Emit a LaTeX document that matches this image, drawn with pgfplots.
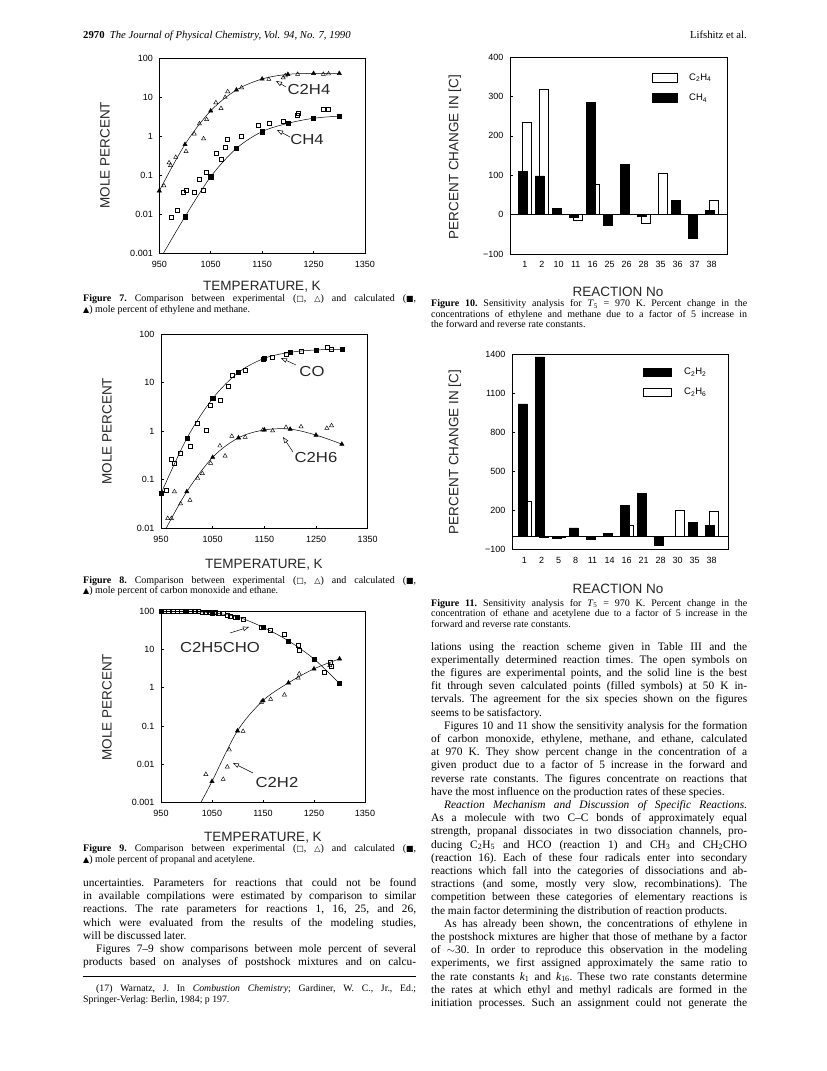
\documentclass[border=0pt]{standalone}
\usepackage{fontspec}
\setmainfont{Liberation Serif}
\newfontfamily\plotfont{Liberation Sans}
\newfontfamily\symfont{DejaVu Sans}
\usepackage{pgfplots}
\pgfplotsset{compat=1.18}
\usetikzlibrary{arrows.meta}

\newcommand{\capfont}{\fontsize{10}{10.5}\selectfont\frenchspacing}
\newcommand{\bodyfont}{\fontsize{11.4}{13.2}\selectfont\frenchspacing}
\newcommand{\labfont}{\plotfont\fontsize{13.5}{13.5}\selectfont\color{black!85}}
\newcommand{\annfont}{\plotfont\fontsize{14.5}{14.5}\selectfont\color{black!85}}
\newcommand{\tickfont}{\plotfont\fontsize{9}{9}\selectfont}
\newcommand{\sq}{{\symfont\fontsize{8}{8}\selectfont □}}
\newcommand{\tri}{{\symfont\fontsize{8}{8}\selectfont △}}
\newcommand{\fsq}{{\symfont\fontsize{8}{8}\selectfont ■}}
\newcommand{\ftri}{{\symfont\fontsize{8}{8}\selectfont ▲}}

\pgfplotsset{
  panelbase/.style={
    scale only axis, anchor=south west,
    axis line style={line width=0.6pt},
    tick align=inside, major tick length=2.5pt,
    xtick pos=left, ytick pos=left,
    tick style={line width=0.5pt, black},
    ticklabel style={font=\tickfont},
    xticklabel style={yshift=-4pt},
    yticklabel style={xshift=-3pt},
  },
  logpanel/.style={
    panelbase, xmin=950, xmax=1350,
    xtick={950,1050,1150,1250,1350},
    xticklabels={950,1050,1150,1250,1350},
    yminorticks=false,
  },
  barpanel/.style={
    panelbase, xtick={0,1,2,3,4,5,6,7,8,9,10,11}, xtick style={draw=none},
  },
}
\tikzset{
  calcline/.style={black, line width=0.5pt, smooth, tension=0.55, mark=none},
  fsqm/.style={only marks, mark=square*, mark size=2.1pt, black},
  osqm/.style={only marks, mark=square, mark size=2pt, black, line width=0.45pt},
  ftrm/.style={only marks, mark=triangle*, mark size=2.5pt, black},
  otrm/.style={only marks, mark=triangle, mark size=2.4pt, black, line width=0.45pt},
  ann/.style={line width=0.5pt, -{Triangle[open, length=6pt, width=4.5pt]}},
  annt/.style={font=\annfont, xscale=1.15},
}

\begin{document}
\begin{tikzpicture}
\useasboundingbox[fill=white] (0,0) rectangle (827pt,-1071pt);

% ---------- header ----------
\node[anchor=base west, inner sep=0pt, font=\fontsize{10.7}{12}\selectfont] at (83pt,-38.5pt)
  {\textbf{2970}\enspace\textit{The Journal of Physical Chemistry, Vol. 94, No. 7, 1990}};
\node[anchor=base east, inner sep=0pt, font=\fontsize{10.7}{12}\selectfont] at (747pt,-38.5pt)
  {Lifshitz et al.};

% ---------- Figure 7 ----------
\begin{axis}[ymode=log, logpanel, at={(159.3pt,-253.3pt)}, width=205.7pt, height=195pt,
  ymin=0.001, ymax=100,
  ytick={0.001,0.01,0.1,1,10,100}, yticklabels={0.001,0.01,0.1,1,10,100}]
  \addplot[calcline] coordinates {(950,0.040) (1000,0.62) (1050,4.5) (1100,15.4) (1150,29.5) (1200,38.8) (1250,41) (1300,41)};
  \addplot[ftrm] coordinates {(950,0.040) (1000,0.62) (1050,4.5) (1100,15.4) (1150,29.5) (1200,38.8) (1250,41) (1300,41)};
  \addplot[calcline] coordinates {(958,0.001) (1000,0.0087) (1050,0.092) (1100,0.49) (1150,1.32) (1200,2.15) (1250,2.9) (1300,3.3)};
  \addplot[fsqm] coordinates {(1000,0.0087) (1050,0.092) (1100,0.49) (1150,1.32) (1200,2.15) (1250,2.9) (1300,3.3)};
  \addplot[otrm] coordinates {(959,0.054) (969,0.21) (972,0.18) (982,0.29) (1002,0.41) (1018,1.15) (1028,2.1) (1036,0.87) (1042,2.7) (1060,7.3) (1070,5.2) (1078,10) (1083,14) (1110,17.7) (1163,29) (1191,31.8) (1195,36) (1219,39) (1269,39) (1279,40)};
  \addplot[osqm] coordinates {(973,0.0083) (985,0.013) (997,0.036) (1003,0.042) (1018,0.036) (1028,0.079) (1036,0.041) (1042,0.12) (1060,0.36) (1070,0.26) (1078,0.51) (1083,0.83) (1110,1.0) (1143,1.9) (1163,2.15) (1191,2.5) (1219,3.5) (1220,3.9) (1269,4.9) (1279,4.9)};
\end{axis}
\node[rotate=90, font=\labfont] at (105pt,-155pt) {MOLE PERCENT};
\node[font=\labfont] at (262pt,-287pt) {TEMPERATURE, K};
\node[annt] at (309pt,-90pt) {C2H4};
\draw[ann] (286pt,-87pt) -- (276pt,-81pt);
\node[annt] at (307pt,-140pt) {CH4};
\draw[ann] (290pt,-137pt) -- (277pt,-130pt);
\node[anchor=base west, inner sep=0pt] at (83pt,-301.5pt) {\begin{minipage}[t]{333pt}\capfont
\textbf{Figure 7.} Comparison between experimental (\sq, \tri) and calculated (\fsq,\linebreak
\ftri) mole percent of ethylene and methane.\end{minipage}};

% ---------- Figure 8 ----------
\begin{axis}[ymode=log, logpanel, at={(161pt,-528.3pt)}, width=206.7pt, height=194.3pt,
  ymin=0.01, ymax=100,
  ytick={0.01,0.1,1,10,100}, yticklabels={0.01,0.1,1,10,100}]
  \addplot[calcline] coordinates {(950,0.052) (1000,0.71) (1050,4.7) (1100,16.2) (1150,31.6) (1200,42) (1250,47) (1300,48)};
  \addplot[fsqm] coordinates {(950,0.052) (1000,0.71) (1050,4.7) (1100,16.2) (1150,31.6) (1200,42) (1250,47) (1300,48)};
  \addplot[calcline] coordinates {(960,0.01) (1000,0.057) (1050,0.29) (1100,0.73) (1150,1.06) (1200,1.1) (1250,0.83) (1300,0.54)};
  \addplot[ftrm] coordinates {(1000,0.057) (1050,0.29) (1100,0.73) (1150,1.06) (1200,1.1) (1250,0.83) (1300,0.54)};
  \addplot[osqm] coordinates {(960,0.062) (969,0.26) (976,0.22) (988,0.35) (1006,0.48) (1021,1.45) (1038,1.05) (1046,3.4) (1064,4.4) (1080,8.5) (1087,14.3) (1113,17.6) (1147,30) (1166,34) (1192,39) (1221,44.6) (1271,53) (1280,48)};
  \addplot[otrm] coordinates {(963,0.016) (970,0.016) (976,0.057) (988,0.032) (1006,0.038) (1021,0.107) (1030,0.135) (1046,0.22) (1064,0.50) (1074,0.31) (1087,0.79) (1113,0.75) (1147,1.06) (1166,1.02) (1192,1.2) (1221,1.24) (1271,1.15) (1280,1.3)};
\end{axis}
\node[rotate=90, font=\labfont] at (107pt,-431pt) {MOLE PERCENT};
\node[font=\labfont] at (264pt,-565pt) {TEMPERATURE, K};
\node[annt] at (312pt,-372pt) {CO};
\draw[ann] (296pt,-365pt) -- (281pt,-358pt);
\node[annt] at (316pt,-458pt) {C2H6};
\draw[ann] (293pt,-452pt) -- (283pt,-437pt);
\node[anchor=base west, inner sep=0pt] at (83pt,-583pt) {\begin{minipage}[t]{333pt}\capfont
\textbf{Figure 8.} Comparison between experimental (\sq, \tri) and calculated (\fsq,\linebreak
\ftri) mole percent of carbon monoxide and ethane.\end{minipage}};

% ---------- Figure 9 ----------
\begin{axis}[ymode=log, logpanel, at={(161pt,-802.7pt)}, width=204pt, height=191.7pt,
  ymin=0.001, ymax=100,
  ytick={0.001,0.01,0.1,1,10,100}, yticklabels={0.001,0.01,0.1,1,10,100}]
  \addplot[calcline] coordinates {(950,97) (1000,97) (1050,90) (1100,70) (1150,37.7) (1200,16.6) (1250,5.6) (1300,1.29)};
  \addplot[fsqm] coordinates {(950,97) (1000,97) (1050,90) (1100,70) (1150,37.7) (1200,16.6) (1250,5.6) (1300,1.29)};
  \addplot[calcline] coordinates {(1028,0.001) (1050,0.0036) (1100,0.075) (1150,0.46) (1200,1.34) (1250,3.1) (1300,5.65)};
  \addplot[ftrm] coordinates {(1050,0.0036) (1100,0.075) (1150,0.46) (1200,1.34) (1250,3.1) (1300,5.65)};
  \addplot[osqm] coordinates {(956,97) (964,97) (973,97) (982,97) (990,97) (1007,97) (1017,96) (1023,96) (1030,94) (1036,94) (1046,92) (1056,91) (1062,88) (1072,87) (1079,79) (1085,74) (1096,68) (1111,62) (1147,37) (1164,31) (1192,25) (1219,13) (1221,9.5) (1270,2.6) (1281,4.6) (1283,3.6)};
  \addplot[otrm] coordinates {(1038,0.0055) (1072,0.0041) (1080,0.0086) (1084,0.024) (1111,0.073) (1147,0.42) (1165,0.5) (1192,0.65) (1219,1.8) (1221,2.3) (1281,3.8)};
\end{axis}
\node[rotate=90, font=\labfont] at (107pt,-707pt) {MOLE PERCENT};
\node[font=\labfont] at (263pt,-838pt) {TEMPERATURE, K};
\node[annt] at (220pt,-647pt) {C2H5CHO};
\draw[ann] (230pt,-633pt) -- (249pt,-627pt);
\node[annt] at (277pt,-782pt) {C2H2};
\draw[ann] (253pt,-773pt) -- (233pt,-763pt);
\node[anchor=base west, inner sep=0pt] at (83pt,-851.5pt) {\begin{minipage}[t]{333pt}\capfont
\textbf{Figure 9.} Comparison between experimental (\sq, \tri) and calculated (\fsq,\linebreak
\ftri) mole percent of propanal and acetylene.\end{minipage}};

% ---------- left column text ----------
\node[anchor=base west, inner sep=0pt] at (83pt,-886.5pt) {\begin{minipage}[t]{333pt}\bodyfont\setlength{\parindent}{13pt}%
\noindent uncertainties. Parameters for reactions that could not be found\linebreak
in available compilations were estimated by comparison to similar\linebreak
reactions. The rate parameters for reactions 1, 16, 25, and 26,\linebreak
which were evaluated from the results of the modeling studies,\linebreak
will be discussed later.\par
{\parfillskip=0pt Figures 7--9 show comparisons between mole percent of several\linebreak
products based on analyses of postshock mixtures and on calcu-\par}
\end{minipage}};
\draw[line width=0.5pt] (83pt,-976pt) -- (416pt,-976pt);
\node[anchor=base west, inner sep=0pt] at (83pt,-991pt) {\begin{minipage}[t]{333pt}\fontsize{9.8}{11.2}\selectfont\frenchspacing\setlength{\parindent}{13pt}%
(17) Warnatz, J. In \textit{Combustion Chemistry}; Gardiner, W. C., Jr., Ed.;\linebreak
Springer-Verlag: Berlin, 1984; p 197.\end{minipage}};

% ---------- Figure 10 ----------
\begin{axis}[barpanel, at={(510pt,-254pt)}, width=217pt, height=197pt,
  xmin=-0.87, xmax=11.91, ymin=-100, ymax=400,
  xticklabels={1,2,10,11,16,25,26,28,35,36,37,38},
  ytick={-100,0,100,200,300,400}, yticklabels={−100,0,100,200,300,400}]
  % C2H4 (open)
  \addplot[ybar, bar width=8.5pt, bar shift=2pt, draw=black, fill=white, line width=0.5pt]
    coordinates {(0,234) (1,317) (3,-15) (4,76) (7,-21) (8,104) (11,36)};
  % CH4 (filled)
  \addplot[ybar, bar width=9pt, bar shift=-2pt, draw=black, fill=black, line width=0.5pt]
    coordinates {(0,109) (1,98) (2,15) (3,-6) (4,285) (5,-27) (6,128) (7,-4) (9,37) (10,-61) (11,11)};
  \draw[line width=0.6pt] (axis cs:-0.87,0) -- (axis cs:11.91,0);
\end{axis}
\draw[line width=0.5pt, fill=white] (652pt,-73.5pt) rectangle (677pt,-82pt);
\node[anchor=west, inner sep=0pt, font=\plotfont\fontsize{9.5}{9.5}\selectfont] at (689pt,-77.5pt) {C\textsubscript{2}H\textsubscript{4}};
\draw[line width=0.5pt, fill=black] (652pt,-93.5pt) rectangle (677pt,-102pt);
\node[anchor=west, inner sep=0pt, font=\plotfont\fontsize{9.5}{9.5}\selectfont] at (689pt,-98pt) {CH\textsubscript{4}};
\node[rotate=90, font=\labfont] at (455pt,-157pt) {PERCENT CHANGE IN [C]};
\node[font=\labfont] at (618pt,-292pt) {REACTION No};
\node[anchor=base west, inner sep=0pt] at (431pt,-306.5pt) {\begin{minipage}[t]{316pt}\capfont
\textbf{Figure 10.} Sensitivity analysis for \textit{T}\textsubscript{5} = 970 K. Percent change in the\linebreak
concentrations of ethylene and methane due to a factor of 5 increase in\linebreak
the forward and reverse rate constants.\end{minipage}};

% ---------- Figure 11 ----------
\begin{axis}[barpanel, at={(512pt,-549.3pt)}, width=216pt, height=195pt,
  xmin=-0.735, xmax=11.97, ymin=-100, ymax=1400,
  xticklabels={1,2,5,8,11,14,16,21,28,30,35,38},
  ytick={-100,200,500,800,1100,1400}, yticklabels={−100,200,500,800,1100,1400}]
  % C2H6 (open)
  \addplot[ybar, bar width=8.5pt, bar shift=2pt, draw=black, fill=white, line width=0.5pt]
    coordinates {(0,269) (1,-6) (2,-8) (6,85) (9,198) (11,190)};
  % C2H2 (filled)
  \addplot[ybar, bar width=9pt, bar shift=-2pt, draw=black, fill=black, line width=0.5pt]
    coordinates {(0,1019) (1,1380) (2,-12) (3,65) (4,-25) (5,20) (6,236) (7,330) (8,-68) (10,108) (11,86)};
  \draw[line width=0.6pt] (axis cs:-0.735,0) -- (axis cs:11.97,0);
\end{axis}
\draw[line width=0.5pt, fill=black] (643pt,-368pt) rectangle (671pt,-376pt);
\node[anchor=west, inner sep=0pt, font=\plotfont\fontsize{9.5}{9.5}\selectfont] at (684pt,-372pt) {C\textsubscript{2}H\textsubscript{2}};
\draw[line width=0.5pt, fill=white] (643pt,-388pt) rectangle (671pt,-396pt);
\node[anchor=west, inner sep=0pt, font=\plotfont\fontsize{9.5}{9.5}\selectfont] at (684pt,-392pt) {C\textsubscript{2}H\textsubscript{6}};
\node[rotate=90, font=\labfont] at (455pt,-452pt) {PERCENT CHANGE IN [C]};
\node[font=\labfont] at (618pt,-589pt) {REACTION No};
\node[anchor=base west, inner sep=0pt] at (431pt,-606pt) {\begin{minipage}[t]{316pt}\capfont
\textbf{Figure 11.} Sensitivity analysis for \textit{T}\textsubscript{5} = 970 K. Percent change in the\linebreak
concentration of ethane and acetylene due to a factor of 5 increase in the\linebreak
forward and reverse rate constants.\end{minipage}};

% ---------- right column text ----------
\node[anchor=base west, inner sep=0pt] at (431pt,-650pt) {\begin{minipage}[t]{316pt}\bodyfont\setlength{\parindent}{13pt}%
\noindent lations using the reaction scheme given in Table III and the\linebreak
experimentally determined reaction times. The open symbols on\linebreak
the figures are experimental points, and the solid line is the best\linebreak
fit through seven calculated points (filled symbols) at 50 K in-\linebreak
tervals. The agreement for the six species shown on the figures\linebreak
seems to be satisfactory.\par
Figures 10 and 11 show the sensitivity analysis for the formation\linebreak
of carbon monoxide, ethylene, methane, and ethane, calculated\linebreak
at 970 K. They show percent change in the concentration of a\linebreak
given product due to a factor of 5 increase in the forward and\linebreak
reverse rate constants. The figures concentrate on reactions that\linebreak
have the most influence on the production rates of these species.\par
\textit{Reaction Mechanism and Discussion of Specific Reactions.}\linebreak
As a molecule with two C--C bonds of approximately equal\linebreak
strength, propanal dissociates in two dissociation channels, pro-\linebreak
ducing C\textsubscript{2}H\textsubscript{5} and HCO (reaction 1) and CH\textsubscript{3} and CH\textsubscript{2}CHO\linebreak
(reaction 16). Each of these four radicals enter into secondary\linebreak
reactions which fall into the categories of dissociations and ab-\linebreak
stractions (and some, mostly very slow, recombinations). The\linebreak
competition between these categories of elementary reactions is\linebreak
the main factor determining the distribution of reaction products.\par
{\parfillskip=0pt As has already been shown, the concentrations of ethylene in\linebreak
the postshock mixtures are higher that those of methane by a factor\linebreak
of $\sim$30. In order to reproduce this observation in the modeling\linebreak
experiments, we first assigned approximately the same ratio to\linebreak
the rate constants \textit{k}\textsubscript{1} and \textit{k}\textsubscript{16}. These two rate constants determine\linebreak
the rates at which ethyl and methyl radicals are formed in the\linebreak
initiation processes. Such an assignment could not generate the\par}
\end{minipage}};
\end{tikzpicture}
\end{document}
